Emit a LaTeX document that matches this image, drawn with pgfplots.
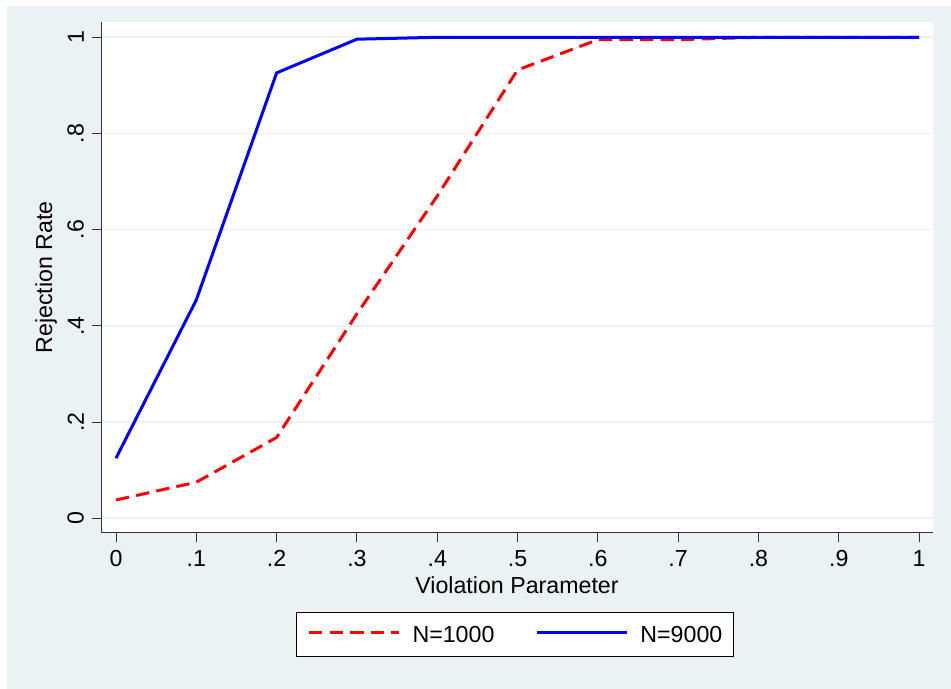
\documentclass[border=0pt]{standalone}
\usepackage{pgfplots}
\pgfplotsset{compat=1.18}
\usepackage{fontspec}
\setmainfont{Liberation Sans}
\definecolor{stbg}{RGB}{234,242,243}
\definecolor{stgrid}{RGB}{234,242,243}
\definecolor{staxis}{RGB}{50,50,50}
\begin{document}
\fontsize{11.6}{13.5}\selectfont
\begin{tikzpicture}
\fill[white] (0,0) rectangle (475.5pt,344.5pt);
\fill[stbg] (3.5pt,0) rectangle (475.5pt,341.5pt);
\begin{axis}[
  at={(50.5pt,78pt)}, anchor=south west,
  scale only axis, width=416pt, height=255.5pt,
  xmin=-0.0187, xmax=1.0174, ymin=-0.0306, ymax=1.0318,
  axis background/.style={fill=white},
  axis x line*=bottom, axis y line*=left,
  axis line style={-, staxis, line width=0.5pt},
  tick align=outside, major tick length=4.5pt,
  tick style={staxis, line width=0.5pt},
  xtick={0,0.1,0.2,0.3,0.4,0.5,0.6,0.7,0.8,0.9,1},
  xticklabels={0,.1,.2,.3,.4,.5,.6,.7,.8,.9,1},
  ytick={0,0.2,0.4,0.6,0.8,1},
  yticklabels={0,.2,.4,.6,.8,1},
  yticklabel style={rotate=90, anchor=south},
  /pgf/number format/assume math mode=true,
  ymajorgrids, major grid style={stgrid, line width=0.8pt},
  xlabel={Violation Parameter}, ylabel={Rejection Rate},
  xlabel style={at={(axis description cs:0.5,-0.1027)}, anchor=center},
  ylabel style={at={(axis description cs:-0.0660,0.5)}, anchor=center},
  legend columns=2,
  legend style={at={(axis description cs:0.2344,-0.198)}, anchor=west,
    draw=black, line width=0.5pt, fill=white,
    inner xsep=5.5pt, inner ysep=7pt,
    nodes={inner sep=0pt, text depth=0pt},
    /tikz/every odd column/.style={column sep=6pt},
    /tikz/every even column/.style={column sep=20.5pt}},
  legend image code/.code={\draw[#1] (0pt,1pt) -- (45pt,1pt);},
]
\addplot[red, line width=1.5pt, dash pattern=on 6.7pt off 3.6pt] coordinates {
 (0,0.038) (0.1,0.075) (0.2,0.168) (0.3,0.425) (0.4,0.67) (0.5,0.932)
 (0.6,0.995) (0.7,0.995) (0.8,1) (0.9,1) (1,1)};
\addlegendentry{N=1000}
\addplot[blue, line width=1.5pt] coordinates {
 (0,0.125) (0.1,0.454) (0.2,0.926) (0.3,0.996) (0.4,1) (0.5,1)
 (0.6,1) (0.7,1) (0.8,1) (0.9,1) (1,1)};
\addlegendentry{N=9000}
\end{axis}
\end{tikzpicture}
\end{document}
